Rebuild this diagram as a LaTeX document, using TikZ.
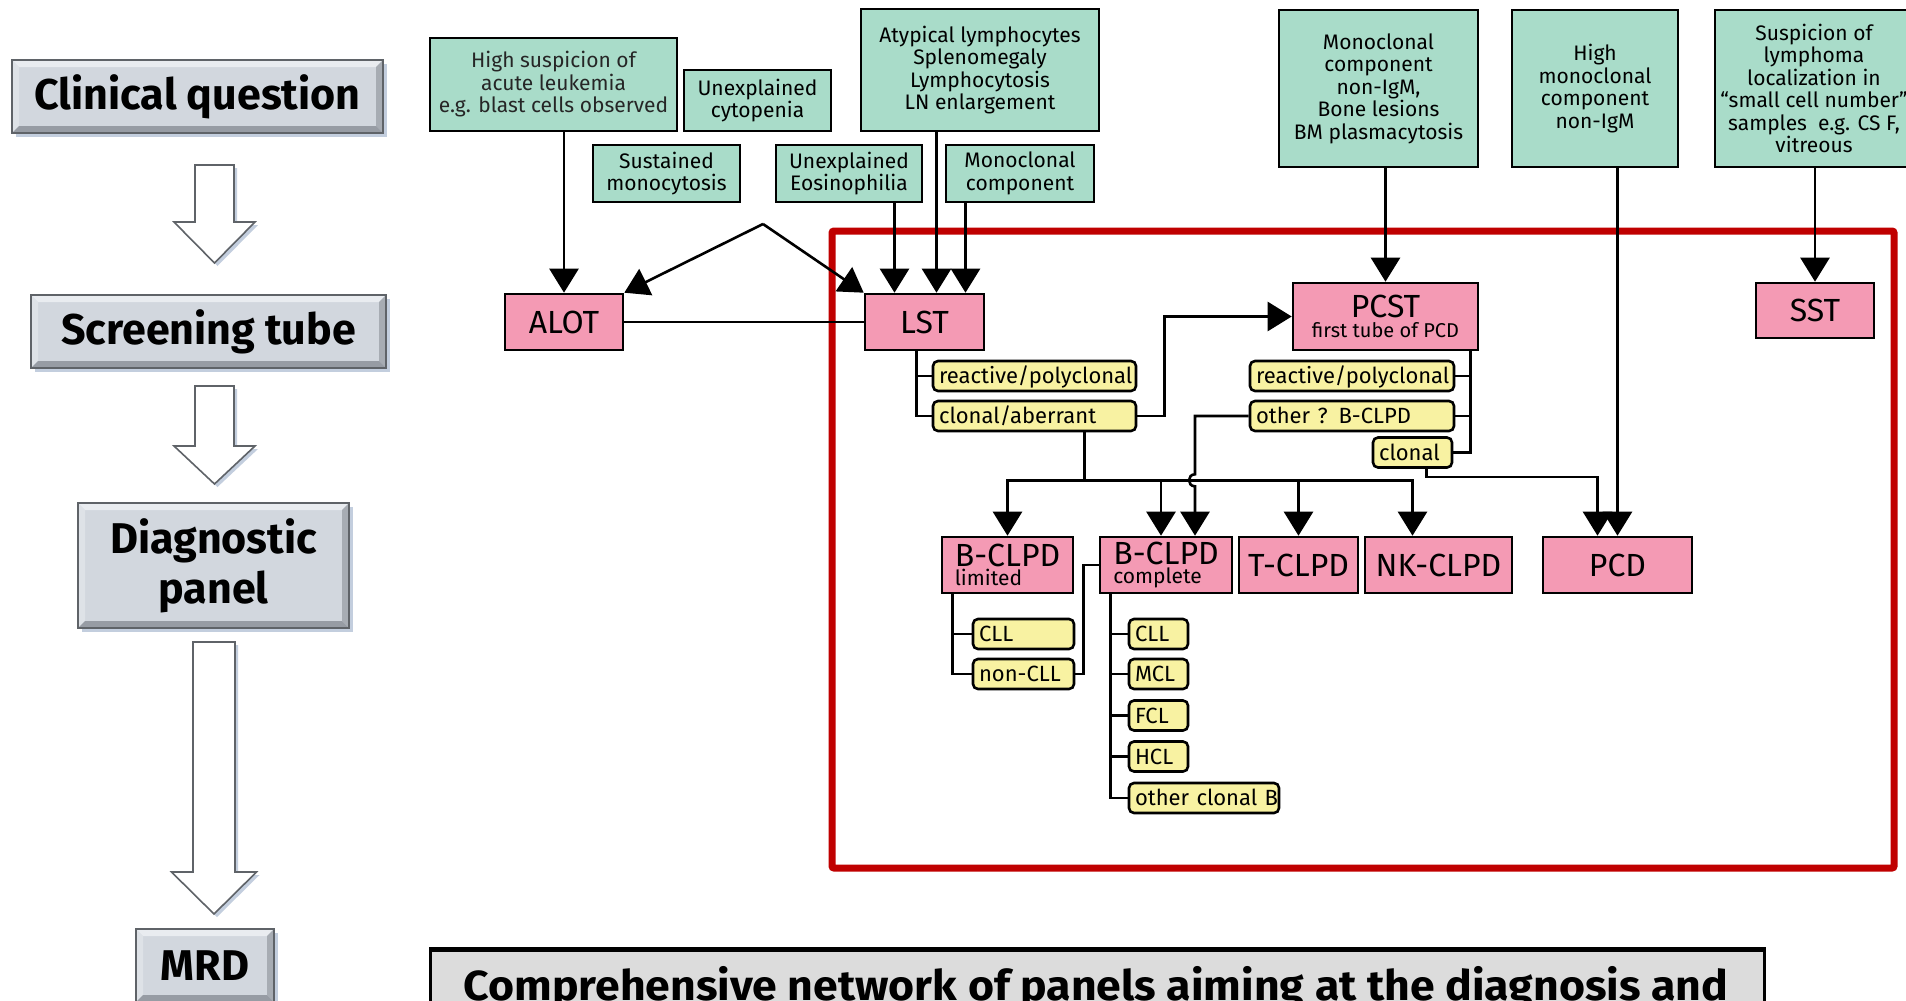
\documentclass[tikz,border=0pt]{standalone}
\usepackage{fontspec}
\setmainfont{Fira Sans}
\usetikzlibrary{arrows.meta,calc,shadows}

\definecolor{gfill}{HTML}{A9DCC9}
\definecolor{pfill}{HTML}{F49AB4}
\definecolor{yfill}{HTML}{F8F2A2}
\definecolor{framered}{HTML}{C00000}
\definecolor{bevbase}{HTML}{D2D7DE}
\definecolor{bevtop}{HTML}{E9ECF0}
\definecolor{bevleft}{HTML}{DEE2E7}
\definecolor{bevright}{HTML}{A7ACB3}
\definecolor{bevbottom}{HTML}{979CA4}
\definecolor{bevedge}{HTML}{5F6368}
\definecolor{shadowc}{HTML}{B4C2D6}
\definecolor{capfill}{HTML}{DCDCDC}

% hollow block arrow: centre x, top, head base, tip, shaft half width, wing half width
\newcommand\hollowarrow[6]{%
  \draw[harrow] (#1-#5,#2) -- (#1+#5,#2) -- (#1+#5,#3) -- (#1+#6,#3) -- (#1,#4)
    -- (#1-#6,#3) -- (#1-#5,#3) -- cycle;}

\begin{document}
\begin{tikzpicture}[x=1pt,y=-1pt,
  sz/.style 2 args={minimum width=#1pt,minimum height=#2pt},
  conn/.style={line width=2.6pt,black},
  arr/.style={conn,-{Triangle[length=24pt,width=29pt]}},
  gbox/.style={draw=black,line width=2.4pt,fill=gfill,align=center,inner sep=0pt,
    font=\fontsize{21}{22.5}\selectfont},
  pbox/.style={draw=black,line width=2.6pt,fill=pfill,inner sep=0pt,
    font=\fontsize{32}{36}\selectfont},
  ybox/.style={draw=black,line width=2.6pt,fill=yfill,rounded corners=5pt,
    inner xsep=6pt,inner ysep=0pt,minimum height=30pt,align=left,
    text height=18pt,text depth=3pt,font=\fontsize{22}{24}\selectfont},
  bevel/.style={draw=bevedge,line width=1.6pt,fill=bevbase,inner sep=0pt,
    font=\bfseries\fontsize{43}{50}\selectfont,
    drop shadow={shadow xshift=4pt,shadow yshift=-4pt,fill=shadowc,opacity=0.8},
    path picture={
      \fill[bevtop] (path picture bounding box.north west) -- (path picture bounding box.north east)
        -- ([shift={(-7pt,-7pt)}]path picture bounding box.north east)
        -- ([shift={(7pt,-7pt)}]path picture bounding box.north west) -- cycle;
      \fill[bevleft] (path picture bounding box.north west) -- (path picture bounding box.south west)
        -- ([shift={(7pt,7pt)}]path picture bounding box.south west)
        -- ([shift={(7pt,-7pt)}]path picture bounding box.north west) -- cycle;
      \fill[bevright] (path picture bounding box.north east) -- (path picture bounding box.south east)
        -- ([shift={(-7pt,7pt)}]path picture bounding box.south east)
        -- ([shift={(-7pt,-7pt)}]path picture bounding box.north east) -- cycle;
      \fill[bevbottom] (path picture bounding box.south west) -- (path picture bounding box.south east)
        -- ([shift={(-7pt,7pt)}]path picture bounding box.south east)
        -- ([shift={(7pt,7pt)}]path picture bounding box.south west) -- cycle;
    }},
  harrow/.style={draw=bevedge,line width=1.6pt,fill=white,line join=miter,
    drop shadow={shadow xshift=3pt,shadow yshift=-3pt,fill=shadowc,opacity=0.8}}
]
\useasboundingbox (0,0) rectangle (1906,1001);
\clip (0,0) rectangle (1906,1001);
\fill[white] (0,0) rectangle (1906,1001);

% ---------- left column: workflow ----------
\node[bevel,sz={371}{73}] (cq) at (197.5,96.5) {Clinical question};
\node[bevel,sz={355}{73}] (st) at (208.5,331.5) {Screening tube};
\node[bevel,sz={271}{125},align=center] (dp) at (213.5,565.5) {Diagnostic\\panel};
\node[bevel,sz={138}{73}] (mrd) at (205,965.5) {MRD};
\hollowarrow{214.5}{165}{222}{263}{19.5}{40.5}
\hollowarrow{214.5}{386}{446}{484}{19.5}{40.5}
\hollowarrow{214}{642}{872}{914}{21}{42.5}

% ---------- red frame ----------
\draw[framered,line width=7pt,rounded corners=2pt] (832,231) rectangle (1894,868);

% ---------- clinical questions ----------
\node[gbox,sz={247}{93},text=black!85] (g1) at (553.5,84.5) {High suspicion of\\acute leukemia\\e.g. blast cells observed};
\node[gbox,sz={147}{61}] (g2) at (757.5,100.5) {Unexplained\\cytopenia};
\node[gbox,sz={147}{57}] (g3) at (666.5,173.5) {Sustained\\monocytosis};
\node[gbox,sz={146}{57}] (g4) at (849,173.5) {Unexplained\\Eosinophilia};
\node[gbox,sz={238}{122}] (g5) at (980,70) {Atypical lymphocytes\\Splenomegaly\\Lymphocytosis\\LN enlargement};
\node[gbox,sz={148}{57}] (g6) at (1020,173.5) {Monoclonal\\component};
\node[gbox,sz={199}{157}] (g7) at (1378.5,88.5) {Monoclonal\\component\\non-IgM,\\Bone lesions\\BM plasmacytosis};
\node[gbox,sz={166}{157}] (g8) at (1595,88.5) {High\\monoclonal\\component\\non-IgM};
\node[gbox,sz={198}{157}] (g9) at (1814,88.5) {Suspicion of\\lymphoma\\localization in\\“small cell number”\\samples~ e.g. CS F,\\vitreous};

% ---------- tubes and panels ----------
\node[pbox,sz={118}{56}] (ALOT) at (564,322) {ALOT};
\node[pbox,sz={119}{56}] (LST) at (924.5,322) {LST};
\node[pbox,sz={185}{67},align=center] (PCST) at (1385.5,316.5)
  {PCST\\[-16pt]{\fontsize{20}{20}\selectfont first tube of PCD}};
\node[pbox,sz={118}{55}] (SST) at (1815,310.5) {SST};
\node[pbox,sz={131}{56},align=left] (BL) at (1007.5,565)
  {B-CLPD\\[-17pt]{\fontsize{21}{21}\selectfont limited}};
\node[pbox,sz={132}{56},align=left] (BC) at (1166,565)
  {B-CLPD\\[-17pt]{\fontsize{21}{21}\selectfont complete}};
\node[pbox,sz={119}{56}] (TC) at (1298.5,565) {T-CLPD};
\node[pbox,sz={147}{56}] (NK) at (1438.5,565) {NK-CLPD};
\node[pbox,sz={149}{56}] (PCD) at (1617.5,565) {PCD};

% ---------- results ----------
\node[ybox,text width=191pt] (rp1) at (1034.5,376) {reactive/polyclonal};
\node[ybox,text width=191pt] (ca1) at (1034.5,416) {clonal/aberrant};
\node[ybox,text width=192pt] (rp2) at (1352,376) {reactive/polyclonal};
\node[ybox,text width=192pt] (ob) at (1352,416) {\mbox{other ? B-CLPD}};
\node[ybox,text width=67pt] (cl) at (1412.5,452.5) {clonal};
\node[ybox,text width=89pt] (cll1) at (1023.5,634) {CLL};
\node[ybox,text width=89pt] (ncll) at (1023.5,674) {non-CLL};
\node[ybox,text width=47pt] (cll2) at (1158.5,634) {CLL};
\node[ybox,text width=47pt] (mcl) at (1158.5,674) {MCL};
\node[ybox,text width=47pt] (fcl) at (1158.5,715.5) {FCL};
\node[ybox,text width=47pt] (hcl) at (1158.5,756.5) {HCL};
\node[ybox,text width=138pt] (ocb) at (1204,798) {\mbox{other clonal B}};

% ---------- connectors ----------
\draw[arr] (g1.south -| ALOT.north) -- (ALOT.north);
\coordinate (apex) at (763,224);
\draw[arr] (apex) -- (ALOT.north east);
\draw[arr] (apex) -- (LST.north west);
\coordinate (l1) at ($(LST.north)+(-30,0)$);
\coordinate (l2) at ($(LST.north)+(12,0)$);
\coordinate (l3) at ($(LST.north)+(41,0)$);
\draw[arr] (g4.south -| l1) -- (l1);
\draw[arr] (g5.south -| l2) -- (l2);
\draw[arr] (g6.south -| l3) -- (l3);
\draw[conn] (ALOT.east) -- (LST.west);

\draw[arr] (g7.south -| PCST.north) -- (PCST.north);
\draw[arr] (g8.south -| PCD.north) -- (PCD.north);
\draw[arr] (g9.south -| SST.north) -- (SST.north);

% LST results
\coordinate (lt) at ($(LST.south)+(-8,0)$);
\draw[conn] (lt) |- (rp1.west);
\draw[conn] (lt) |- (ca1.west);
\draw[arr] (ca1.east) -- ++(27,0) |- (PCST.west);

% PCST results
\coordinate (pt) at ($(PCST.south east)+(-9,0)$);
\draw[conn] (pt) |- (rp2.east);
\draw[conn] (pt) |- (ob.east);
\draw[conn] (pt) |- (cl.east);

% clonal/aberrant fan-out
\coordinate (bus) at ($(ca1.south)+(50,48)$);
\draw[conn] (ca1.south -| bus) -- (bus);
\draw[arr] (bus) -| (BL.north);
\draw[arr] (bus) -| ($(BC.north)+(-5,0)$);
\draw[arr] (bus) -| (TC.north);
\draw[arr] (bus) -| ($(NK.north)+(-26,0)$);

% other ? B-CLPD, hopping over the fan-out line
\coordinate (obx) at ($(BC.north)+(29,0)$);
\coordinate (hop) at (obx |- bus);
\draw[arr] (ob.west) -| ($(hop)+(0,-6)$)
  .. controls ($(hop)+(-8,-6)$) and ($(hop)+(-8,6)$) .. ($(hop)+(0,6)$) -- (obx);

% clonal plasma cells
\coordinate (pa) at ($(PCD.north)+(-20,0)$);
\draw[arr] ($(cl.south)+(14,0)$) -- ++(0,8) -| (pa);

% B-CLPD subtrees
\coordinate (blt) at ($(BL.south west)+(12,0)$);
\draw[conn] (blt) |- (cll1.west);
\draw[conn] (blt) |- (ncll.west);
\draw[conn] (ncll.east) -- ++(8,0) |- (BC.west);
\coordinate (bct) at ($(BC.south west)+(12,0)$);
\draw[conn] (bct) |- (cll2.west);
\draw[conn] (bct) |- (mcl.west);
\draw[conn] (bct) |- (fcl.west);
\draw[conn] (bct) |- (hcl.west);
\draw[conn] (bct) |- (ocb.west);

% ---------- caption ----------
\node[draw=black,line width=3pt,fill=capfill,anchor=north west,minimum width=1334pt,minimum height=80pt] (capbox) at (429,949) {};
\draw[line width=5pt] (capbox.north west) -- (capbox.north east);
\node[font=\bfseries\fontsize{42}{42}\selectfont,anchor=base,inner sep=0pt] (captext) at (1096,1000)
  {\scalebox{1.062}[1]{Comprehensive network of panels aiming at the diagnosis and}};
\end{tikzpicture}
\end{document}
